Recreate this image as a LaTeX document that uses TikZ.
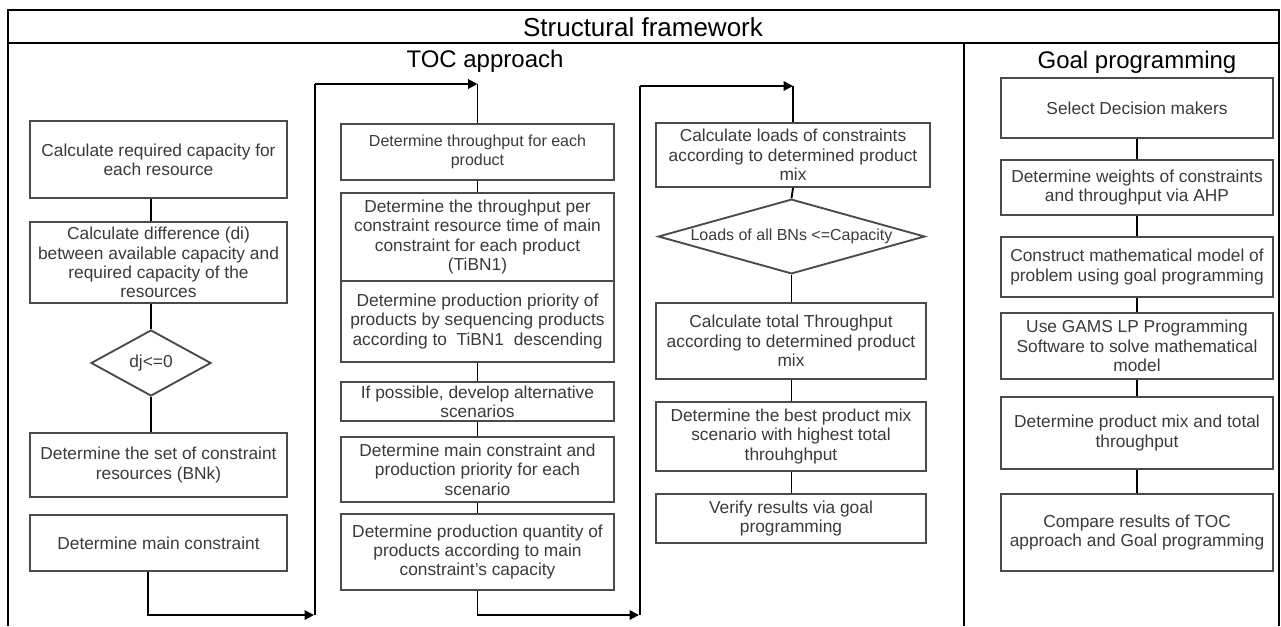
\documentclass[tikz,border=0pt]{standalone}
\usepackage{fontspec}
\setmainfont{Liberation Sans}
\usetikzlibrary{shapes.geometric,arrows.meta}
\definecolor{txt}{HTML}{3A3A3A}
\definecolor{bord}{HTML}{4A4A4A}
\newcommand{\mybox}[6][box]{\node[#1, minimum width={(#4-#2)*0.75pt}, minimum height={(#5-#3)*0.75pt}] (#6) at ({(#2+#4)/2},{(#3+#5)/2})}
\begin{document}
\begin{tikzpicture}[x=0.75pt,y=-0.75pt,
  box/.style={draw=bord, line width=1.4pt, inner sep=0pt, align=center, text=txt,
              font=\fontsize{13}{14.5}\selectfont},
  smallbox/.style={box, font=\fontsize{12}{14}\selectfont},
  dia/.style={draw=bord, line width=1.4pt, diamond, inner sep=0pt},
  diatext/.style={text=txt, inner sep=0pt},
  conn/.style={draw=black, line width=1.4pt},
  arr/.style={conn, -{Triangle[length=7pt,width=7pt]}},
  frame/.style={draw=black, line width=1.5pt},
  head/.style={text=black, font=\fontsize{18}{20}\selectfont},
]
\useasboundingbox (0,0) rectangle (1281,626);

% frame
\draw[frame] (8,626) -- (8,10) -- (1279,10) -- (1279,626);
\draw[frame] (8,43) -- (1279,43);
\draw[frame] (964,43) -- (964,626);

\node[head, font=\fontsize{19.5}{22}\selectfont] (title) at (643,27) {Structural framework};
\node[head] (toc) at (485,61) {TOC approach};
\node[head] (gp) at (1137,62) {Goal programming};

% left column
\mybox{30}{121}{287}{198}{b1} {Calculate required capacity for\\each resource};
\mybox{30}{222}{287}{303}{b2} {Calculate difference (di)\\between available capacity and\\required capacity of the\\resources};
\node[dia, minimum width=90pt, minimum height=49.5pt] (d1) at (151,363) {};
\node[diatext, font=\fontsize{13}{14.5}\selectfont] (d1t) at (d1) {dj<=0};
\mybox{30}{433}{287}{497}{b3} {Determine the set of constraint\\resources (BNk)};
\mybox{30}{515}{287}{571}{b4} {Determine main constraint};

% middle column
\mybox[smallbox]{341}{124}{614}{180}{b5} {Determine throughput for each\\product};
\mybox{341}{193}{614}{281}{b6} {Determine the throughput per\\constraint resource time of main\\constraint for each product\\(TiBN1)};
\mybox{341}{281}{614}{362}{b7} {Determine production priority of\\products by sequencing products\\according to\ \ TiBN1\ \ descending};
\mybox{341}{382}{614}{421}{b8} {If possible, develop alternative\\scenarios};
\mybox{341}{437}{614}{502}{b9} {Determine main constraint and\\production priority for each\\scenario};
\mybox{341}{514}{614}{590}{b10} {Determine production quantity of\\products according to main\\constraint's capacity};

% third column
\mybox{656}{123}{930}{187}{b11} {Calculate loads of constraints\\according to determined product\\mix};
\node[dia, minimum width=200pt, minimum height=56pt] (d2) at (791.5,236.5) {};
\node[diatext, font=\fontsize{12}{14}\selectfont] (d2t) at (d2) {Loads of all BNs <=Capacity};
\mybox{656}{303}{926}{379}{b12} {Calculate total Throughput\\according to determined product\\mix};
\mybox{656}{402}{926}{471}{b13} {Determine the best product mix\\scenario with highest total\\throuhghput};
\mybox{656}{494}{926}{543}{b14} {Verify results via goal\\programming};

% goal programming column
\mybox{1001}{78}{1273}{138}{g1} {Select Decision makers};
\mybox{1001}{160}{1273}{215}{g2} {Determine weights of constraints\\and throughput via AHP};
\mybox{1001}{237}{1273}{297}{g3} {Construct mathematical model of\\problem using goal programming};
\mybox{1001}{313}{1273}{379}{g4} {Use GAMS LP Programming\\Software to solve mathematical\\model};
\mybox{1001}{397}{1273}{469}{g5} {Determine product mix and total\\throughput};
\mybox{1001}{494}{1273}{571}{g6} {Compare results of TOC\\approach and Goal programming};

% connectors left
\draw[conn] (d1 |- b1.south) -- (d1 |- b2.north);
\draw[conn] (d1 |- b2.south) -- (d1.north);
\draw[conn] (d1.south) -- (d1 |- b3.north);
\coordinate (c1) at (314,615);
\draw[arr] ([xshift=-7.9pt]b4.south) |- (c1);
\coordinate (top1) at (315,84);
\coordinate (t5) at (b5.north |- top1);
\draw[conn] (315,615) -- (top1);
\draw[arr] (top1) -- (t5);
\draw[conn] (t5) -- (b5.north);

% connectors middle
\draw[conn] (b5.south) -- (b6.north);
\draw[conn] (b7.south) -- (b8.north);
\draw[conn] (b8.south) -- (b9.north);
\draw[conn] (b9.south) -- (b10.north);
\coordinate (c2) at (639,615);
\draw[arr] (b10.south) |- (c2);
\coordinate (top2) at (640,86);
\coordinate (t11) at (b11.north |- top2);
\draw[conn] (640,615) -- (top2);
\draw[arr] (top2) -- (t11);
\draw[conn] (t11) -- (b11.north);

% connectors third
\draw[conn] (b11.south) -- (d2.north);
\draw[conn] (d2.south) -- (d2 |- b12.north);
\draw[conn] (d2 |- b12.south) -- (d2 |- b13.north);
\draw[conn] (d2 |- b13.south) -- (d2 |- b14.north);

% connectors goal
\draw[conn] (g1.south) -- (g2.north);
\draw[conn] (g2.south) -- (g3.north);
\draw[conn] (g3.south) -- (g4.north);
\draw[conn] (g4.south) -- (g5.north);
\draw[conn] (g5.south) -- (g6.north);
\end{tikzpicture}
\end{document}
